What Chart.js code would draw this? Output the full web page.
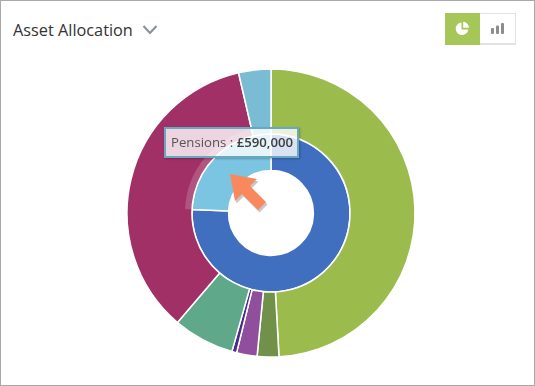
<!DOCTYPE html>
<html>
<head>
<meta charset="utf-8">
<title>Asset Allocation</title>
<script src="https://cdn.jsdelivr.net/npm/chart.js@4"></script>
<style>
  html, body { margin: 0; padding: 0; background: #fff; overflow: hidden; }
  #card { position: relative; width: 535px; height: 386px; box-sizing: border-box; border: 1px solid #a9a9a9; overflow: hidden; font-family: "Open Sans", sans-serif; }
  #title { position: absolute; left: 12px; top: 18px; font-size: 16.3px; line-height: 22px; color: #333; }
  #chevron { position: absolute; left: 140px; top: 22px; }
  #buttons { position: absolute; left: 444px; top: 12px; width: 71px; height: 32px; box-sizing: border-box; border: 1px solid #e2e2e2; border-bottom-width: 2px; }
  #pieBtn { position: absolute; left: -1px; top: -1px; width: 35px; height: 32px; background: #a5c75a; }
  #barBtn { position: absolute; left: 34px; top: 0; width: 35px; height: 29px; }
  #pieBtn svg, #barBtn svg { position: absolute; }
  #wrap { position: absolute; left: 120px; top: 62px; width: 300px; height: 300px; }
  #tip { position: absolute; left: 163px; top: 126px; width: 135px; height: 31px; box-sizing: border-box; border: 2px solid #69a9bf; background: rgba(255,255,255,0.8); box-shadow: 1px 1px 2px rgba(0,0,0,0.25); font-size: 13.2px; line-height: 27px; color: #555; padding-left: 5px; white-space: nowrap; }
  #tip b { font-weight: 600; color: #3d3d3d; }
  #arrow { position: absolute; left: 221px; top: 167px; }
</style>
</head>
<body>
<div id="card">
  <div id="title">Asset Allocation</div>
  <svg id="chevron" width="18" height="14"><path d="M2.5 3 L9 10 L15.5 3" fill="none" stroke="#8a8f94" stroke-width="2"/></svg>
  <div id="buttons">
    <div id="pieBtn"><svg style="left:10px;top:8px" width="15" height="15"><path d="M6.5 1.5 A6.3 6.3 0 1 0 13.3 8.5 L6.5 8.5 Z M8.2 0.8 L8.2 6.8 L14 6.8 A6.2 6.2 0 0 0 8.2 0.8 Z" fill="#fff"/></svg></div>
    <div id="barBtn"><svg style="left:10px;top:8px" width="15" height="14"><rect x="1" y="6" width="3" height="6" rx="1" fill="#8d8d8d"/><rect x="6" y="3.5" width="3" height="8.5" rx="1" fill="#8d8d8d"/><rect x="11" y="1" width="3" height="11" rx="1" fill="#8d8d8d"/></svg></div>
  </div>
  <div id="wrap"><canvas id="allocation" width="300" height="300"></canvas></div>
  <div id="tip">Pensions : <b>£590,000</b></div>
  <svg id="arrow" width="50" height="46">
    <path d="M8 6 L35 11 L28 18 L44 34 L36 42 L20 26 L13 33 Z" fill="rgba(0,0,0,0.22)" transform="translate(1.5,2.5)"/>
    <path d="M8 6 L35 11 L28 18 L44 34 L36 42 L20 26 L13 33 Z" fill="#f9885f"/>
  </svg>
</div>
<script>
const outerLabels = ['Equities', 'Property', 'Bonds', 'Commodities', 'Alternatives', 'Cash', 'Other'];
const outerValues = [1194000, 59000, 56000, 13000, 167000, 854000, 88000];
const outerColors = ['#9bbb4d', '#71904a', '#8f4f9d', '#4b2d83', '#5fa88a', '#a03065', '#7bbcd5'];
const innerLabels = ['Investments', 'Pensions'];
const innerValues = [1840000, 590000];
const innerColors = ['#3f6fbe', '#7cc5e2'];

// hover halo round the pensions slice, follows the arc element
const halo = {
  id: 'halo',
  afterDatasetsDraw(chart) {
    const arc = chart.getDatasetMeta(1).data[1];
    const ctx = chart.ctx;
    ctx.save();
    ctx.beginPath();
    ctx.arc(arc.x, arc.y, arc.outerRadius + 3.5, arc.startAngle, arc.endAngle);
    ctx.lineWidth = 7;
    ctx.strokeStyle = 'rgba(255,255,255,0.18)';
    ctx.stroke();
    ctx.restore();
  }
};

new Chart(document.getElementById('allocation'), {
  type: 'doughnut',
  data: {
    labels: outerLabels,
    datasets: [
      { data: outerValues, backgroundColor: outerColors, weight: 64 },
      { labels: innerLabels, data: innerValues, backgroundColor: innerColors, weight: 36 }
    ]
  },
  options: {
    responsive: false,
    animation: false,
    radius: 144,
    cutout: 44,
    borderColor: '#fff',
    borderWidth: 1.5,
    plugins: { legend: { display: false }, tooltip: { enabled: false } }
  },
  plugins: [halo]
});
</script>
</body>
</html>
